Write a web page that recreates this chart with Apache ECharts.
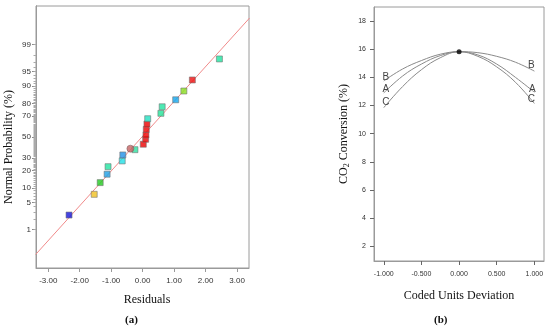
<!DOCTYPE html>
<html>
<head>
<meta charset="utf-8">
<script src="https://cdn.jsdelivr.net/npm/echarts@6/dist/echarts.min.js"></script>
<style>html,body{margin:0;padding:0;background:#fff}#c{width:550px;height:331px}</style>
</head>
<body>
<div id="c"></div>
<script>
// ---------- Panel (a): normal probability plot of residuals ----------
const residuals = [-2.34, -1.54, -1.35, -1.13, -1.10, -0.65, -0.63, -0.245, 0.02, 0.095, 0.105, 0.115, 0.137, 0.16, 0.58, 0.62, 1.05, 1.31, 1.58, 2.44];
const probabilities = [2.5, 7.5, 12.6, 17.5, 22.8, 27.4, 32.6, 37.5, 42.8, 47.7, 52.0, 57.6, 62.8, 67.7, 72.4, 77.6, 82.5, 87.6, 92.4, 97.5];
const pointColors = ['#1515d8', '#f0c020', '#22cc22', '#1ea0e6', '#22e4a0', '#20e0e6', '#2090e6', '#30e0a0', '#ee0000', '#ee0000', '#ee0000', '#ee0000', '#ee0000', '#20e0c0', '#22e498', '#22e4a0', '#10a8f0', '#88e020', '#ee1010', '#22e4a0'];
const circleResidual = [-0.39];
const circleProbability = [38.5];
const fitLineResidual = [-3.4, 3.4];
const fitLineZ = [-2.95, 2.99];
const probTicks = [1, 5, 10, 20, 30, 50, 70, 80, 90, 95, 99];
const residualTicks = [-3, -2, -1, 0, 1, 2, 3];

// ---------- Panel (b): perturbation plot ----------
const deviation = [-1, -0.75, -0.5, -0.25, 0, 0.25, 0.5, 0.75, 1];
const curveB = [13.75, 14.6, 15.2, 15.65, 15.83, 15.76, 15.5, 15.08, 14.45];
const curveA = [12.9, 14.1, 14.95, 15.55, 15.83, 15.6, 14.95, 14.0, 12.95];
const curveC = [11.85, 13.35, 14.55, 15.4, 15.83, 15.5, 14.75, 13.65, 12.15];
const refPoint = [0, 15.83];
const convTicks = [2, 4, 6, 8, 10, 12, 14, 16, 18];
const devTicks = [-1, -0.5, 0, 0.5, 1];

// inverse normal CDF (probability-axis transform)
function probit(p) {
  const a = [-3.969683028665376e+01, 2.209460984245205e+02, -2.759285104469687e+02, 1.383577518672690e+02, -3.066479806614716e+01, 2.506628277459239e+00];
  const b = [-5.447609879822406e+01, 1.615858368580409e+02, -1.556989798598866e+02, 6.680131188771972e+01, -1.328068155288572e+01];
  const c = [-7.784894002430293e-03, -3.223964580411365e-01, -2.400758277161838e+00, -2.549732539343734e+00, 4.374664141464968e+00, 2.938163982698783e+00];
  const d = [7.784695709041462e-03, 3.224671290700398e-01, 2.445134137142996e+00, 3.754408661907416e+00];
  const pl = 0.02425;
  let q, r;
  if (p < pl) { q = Math.sqrt(-2 * Math.log(p)); return (((((c[0]*q+c[1])*q+c[2])*q+c[3])*q+c[4])*q+c[5]) / ((((d[0]*q+d[1])*q+d[2])*q+d[3])*q+1); }
  if (p > 1 - pl) { q = Math.sqrt(-2 * Math.log(1 - p)); return -(((((c[0]*q+c[1])*q+c[2])*q+c[3])*q+c[4])*q+c[5]) / ((((d[0]*q+d[1])*q+d[2])*q+d[3])*q+1); }
  q = p - 0.5; r = q * q;
  return (((((a[0]*r+a[1])*r+a[2])*r+a[3])*r+a[4])*r+a[5])*q / (((((b[0]*r+b[1])*r+b[2])*r+b[3])*r+b[4])*r+1);
}
const zOf = p => probit(p / 100);
const minorPct = [];
for (let i = 1; i <= 99; i++) minorPct.push(i);

const tickFont = '"Liberation Sans Narrow","Liberation Sans",Arial,sans-serif';
const serif = '"Liberation Serif","DejaVu Serif",serif';
const frame = '#9a9a9a';

const chart = echarts.init(document.getElementById('c'), null, { renderer: 'canvas' });

const option = {
  animation: false,
  backgroundColor: '#fff',
  grid: [
    { left: 36, top: 6, width: 213, height: 262, show: true, borderColor: frame, borderWidth: 1, backgroundColor: 'transparent' },
    { left: 374, top: 7, width: 170, height: 254, show: true, borderColor: frame, borderWidth: 1, backgroundColor: 'transparent' }
  ],
  xAxis: [
    { type: 'value', gridIndex: 0, min: -3.39, max: 3.38,
      name: 'Residuals', nameLocation: 'middle', nameGap: 26,
      nameTextStyle: { fontFamily: serif, fontSize: 12, color: '#111', padding: [0, 0, 0, 9] },
      axisLine: { show: true, onZero: false, lineStyle: { color: frame } },
      axisTick: { show: true, length: 4, lineStyle: { color: frame }, customValues: residualTicks },
      axisLabel: { customValues: residualTicks, formatter: v => v.toFixed(2), fontFamily: tickFont, fontSize: 8, color: '#333', margin: 9 },
      splitLine: { show: false } },
    { type: 'value', gridIndex: 1, min: -1.13, max: 1.128,
      name: 'Coded Units Deviation', nameLocation: 'middle', nameGap: 29,
      nameTextStyle: { fontFamily: serif, fontSize: 12, color: '#111' },
      axisLine: { show: true, onZero: false, lineStyle: { color: frame } },
      axisTick: { show: true, length: 4, lineStyle: { color: '#666' }, customValues: devTicks },
      axisLabel: { customValues: devTicks, formatter: v => v.toFixed(3), fontFamily: tickFont, fontSize: 7, color: '#333', margin: 10 },
      splitLine: { show: false } }
  ],
  yAxis: [
    { type: 'value', gridIndex: 0, min: -3.29, max: 3.29,
      name: 'Normal Probability (%)', nameLocation: 'middle', nameGap: 21, nameRotate: 90,
      nameTextStyle: { fontFamily: serif, fontSize: 12, color: '#111', padding: [0, 20, 0, 0] },
      axisLine: { show: true, onZero: false, lineStyle: { color: frame } },
      axisTick: { show: true, length: 4, lineStyle: { color: '#888' }, customValues: probTicks.map(zOf) },
      axisLabel: { customValues: probTicks.map(zOf),
        formatter: v => { let best = probTicks[0]; probTicks.forEach(t => { if (Math.abs(zOf(t) - v) < Math.abs(zOf(best) - v)) best = t; }); return String(best); },
        fontFamily: tickFont, fontSize: 8, color: '#333', margin: 5 },
      splitLine: { show: false } },
    { type: 'value', gridIndex: 0, min: -3.29, max: 3.29, position: 'left', offset: 0,
      axisLine: { show: true, onZero: false, lineStyle: { color: frame } },
      axisTick: { show: true, length: 2.5, lineStyle: { color: '#aaa' }, customValues: minorPct.map(zOf) },
      axisLabel: { show: false }, splitLine: { show: false } },
    { type: 'value', gridIndex: 1, min: 0.94, max: 19.01,
      name: '{n|CO}{s|2}{n| Conversion (%)}', nameLocation: 'middle', nameGap: 23, nameRotate: 90,
      nameTextStyle: { rich: {
        n: { fontFamily: serif, fontSize: 12, color: '#111' },
        s: { fontFamily: serif, fontSize: 8, color: '#111', verticalAlign: 'bottom', padding: [6, 0, 0, 0] } } },
      axisLine: { show: true, onZero: false, lineStyle: { color: frame } },
      axisTick: { show: true, length: 4, lineStyle: { color: '#666' }, customValues: convTicks },
      axisLabel: { customValues: convTicks, fontFamily: tickFont, fontSize: 7, color: '#333', margin: 8 },
      splitLine: { show: false } }
  ],
  series: [
    { type: 'line', xAxisIndex: 0, yAxisIndex: 0, symbol: 'none', silent: true,
      data: fitLineResidual.map((x, i) => [x, fitLineZ[i]]),
      lineStyle: { color: '#f08a8a', width: 1 }, z: 1 },
    { type: 'scatter', xAxisIndex: 0, yAxisIndex: 0, symbol: 'rect', symbolSize: 6,
      data: residuals.map((x, i) => ({ value: [x, zOf(probabilities[i])], itemStyle: { color: pointColors[i] } })),
      itemStyle: { borderColor: '#707070', borderWidth: 0.7 }, z: 3 },
    { type: 'scatter', xAxisIndex: 0, yAxisIndex: 0, symbol: 'circle', symbolSize: 7,
      data: circleResidual.map((x, i) => [x, zOf(circleProbability[i])]),
      itemStyle: { color: '#c46464', borderColor: '#806060', borderWidth: 0.7 }, z: 4 },
    ...[['B', curveB, [2, -4], [-3, -6]], ['A', curveA, [2, -4], [-2, -3]], ['C', curveC, [2, -5], [-3, -4]]].map(([nm, ys, lo, ro]) => ({
      type: 'line', name: nm, xAxisIndex: 1, yAxisIndex: 2, smooth: 0.4, symbol: 'none', silent: true,
      lineStyle: { color: '#8a8a8a', width: 1 },
      data: deviation.map((x, i) => {
        const d = { value: [x, ys[i]] };
        if (i === 0 || i === deviation.length - 1) {
          d.label = { show: true, formatter: nm, position: 'inside', offset: i === 0 ? lo : ro,
            fontFamily: '"Liberation Sans",Arial,sans-serif', fontSize: 10, color: '#444' };
          d.symbol = 'circle'; d.symbolSize = 0.1;
        }
        return d;
      }),
      showSymbol: true, showAllSymbol: true
    })),
    { type: 'scatter', xAxisIndex: 1, yAxisIndex: 2, symbol: 'circle', symbolSize: 5,
      data: [refPoint], itemStyle: { color: '#000' }, z: 5 }
  ],
  graphic: [
    { type: 'text', left: 125, top: 315, style: { text: '(a)', font: 'bold 11px ' + serif, fill: '#111' } },
    { type: 'text', left: 434, top: 315, style: { text: '(b)', font: 'bold 11px ' + serif, fill: '#111' } }
  ]
};
chart.setOption(option);
</script>
</body>
</html>
